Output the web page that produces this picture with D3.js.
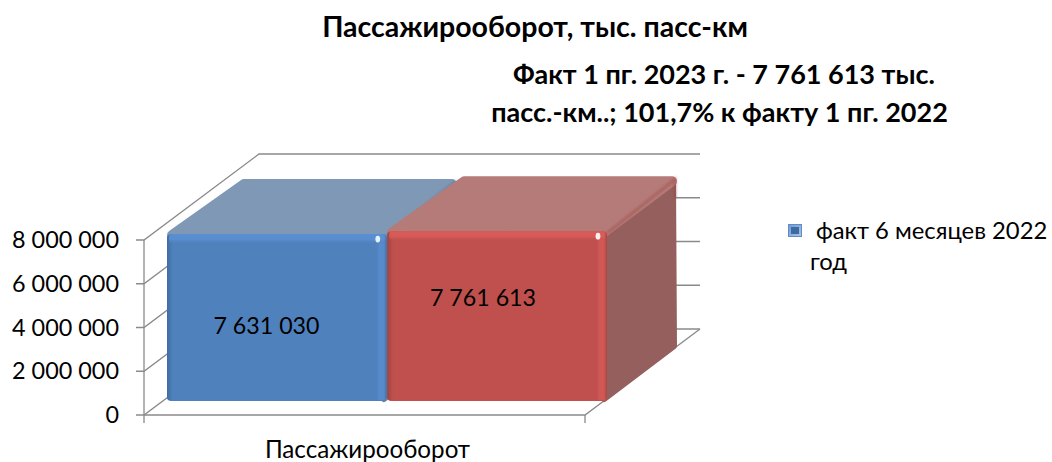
<!DOCTYPE html>
<html><head><meta charset="utf-8">
<script src="https://cdn.jsdelivr.net/npm/d3@7"></script>
<style>html,body{margin:0;background:#fff}svg{display:block}text{font-family:Lato,"Open Sans",sans-serif;fill:#000}</style>
</head><body><script>
const seriesNames=["факт 6 месяцев 2022 год","факт 6 месяцев 2023 год"];
const seriesValues=[7631030,7761613];
const seriesLabels=["7 631 030","7 761 613"];
const categories=["Пассажирооборот"];
const tickValues=[0,2000000,4000000,6000000,8000000];
const tickLabels=["0","2 000 000","4 000 000","6 000 000","8 000 000"];
const chartTitle="Пассажирооборот, тыс. пасс-км";
const subtitleLines=["Факт 1 пг. 2023 г. - 7 761 613 тыс.","пасс.-км..; 101,7% к факту 1 пг. 2022"];
const palettes=[
 {front:"#4F81BD",top:"#7F98B5",side:"#6d8199",hi:"#5A8FD2",lo:"#3f6a9e",spot:"#e4f2ff"},
 {front:"#C0504D",top:"#B57B78",side:"#955F5D",hi:"#D95C59",lo:"#9a4340",spot:"#fff0ee"}];

const W=1052,H=462;
const svg=d3.select("body").append("svg").attr("width",W).attr("height",H);
const defs=svg.append("defs");
const y=d3.scaleLinear().domain([0,8000000]).range([415,240]);
const xFloor=d3.scaleBand().domain(categories).range([144,585]);
const xBar=d3.scaleBand().domain(seriesNames).range([167,607]).paddingInner(0.002);
const wall={dx:115,dy:-86},barLift=-14,depth={dx:70,dy:-55};
const grey="#8a8a8a";

const g=svg.append("g").attr("fill","none").attr("stroke",grey).attr("stroke-width",1.3);
tickValues.forEach(v=>{
  const p=y(v);
  g.append("path").attr("d",d3.line()([[136,p],[144,p],[144+wall.dx,p+wall.dy],[xFloor.range()[1]+wall.dx,p+wall.dy]]));
});
g.append("path").attr("d",d3.line()([[144,y(8000000)],[144,y(0)+8]]));
g.append("path").attr("d",d3.line()([[144,y(0)],[585,y(0)],[585+wall.dx,y(0)+wall.dy]]));
g.append("path").attr("d",d3.line()([[585,y(0)],[585,y(0)+8]]));

function grad(id,x2,y2,stops){
  const l=defs.append("linearGradient").attr("id",id).attr("x1",0).attr("y1",0).attr("x2",x2).attr("y2",y2);
  stops.forEach(s=>l.append("stop").attr("offset",s[0]).attr("stop-color",s[1]).attr("stop-opacity",s[2]));
}
defs.append("filter").attr("id","blur").append("feGaussianBlur").attr("stdDeviation",1.1);
defs.append("filter").attr("id","blurS").append("feGaussianBlur").attr("stdDeviation",0.7);

function bar(i){
  const name=seriesNames[i],p=palettes[i],x0=xBar(name),w=xBar.bandwidth();
  const yt=y(seriesValues[i])+barLift,yb=y(0)+barLift;
  const G=svg.append("g");
  const poly=(pts,fill,r)=>G.append("path").attr("d",d3.line()(pts)+"Z").attr("fill",fill).attr("stroke",fill).attr("stroke-width",r*2).attr("stroke-linejoin","round");
  poly([[x0+w-3,yt+3],[x0+w+depth.dx-4,yt+depth.dy+4],[x0+w+depth.dx-3,yb+depth.dy],[x0+w-3,yb-2]],p.side,3);
  poly([[x0+5,yt+1],[x0+depth.dx+7,yt+depth.dy+5],[x0+w+depth.dx-5,yt+depth.dy+5],[x0+w-3,yt+1]],p.top,5);
  G.append("path").attr("d",d3.line()([[x0+w,yt+2],[x0+w+depth.dx-2,yt+depth.dy+3],[x0+w+depth.dx-2,yt+depth.dy+22]])).attr("stroke",p.lo).attr("stroke-width",3).attr("opacity",.4).attr("fill","none").attr("filter","url(#blur)");
  G.append("rect").attr("x",x0).attr("y",yt).attr("width",w).attr("height",yb-yt).attr("rx",4).attr("fill",p.front);
  const gl="gl"+i,gr="gr"+i,gt="gt"+i;
  grad(gl,1,0,[[0,p.lo,.95],[.5,p.lo,.35],[1,p.front,0]]);
  grad(gr,1,0,[[0,p.front,0],[.4,p.hi,.7],[.75,p.hi,.6],[1,p.lo,.8]]);
  grad(gt,0,1,[[0,p.hi,.95],[.55,p.hi,.85],[1,p.front,0]]);
  G.append("rect").attr("x",x0).attr("y",yt+1).attr("width",7).attr("height",yb-yt-2).attr("rx",3).attr("fill",`url(#${gl})`);
  G.append("rect").attr("x",x0+w-12).attr("y",yt+1).attr("width",12).attr("height",yb-yt-2).attr("rx",3).attr("fill",`url(#${gr})`);
  G.append("rect").attr("x",x0+2).attr("y",yt).attr("width",w-4).attr("height",10).attr("rx",3).attr("fill",`url(#${gt})`);
  G.append("ellipse").attr("cx",x0+w-9).attr("cy",yt+5).attr("rx",2.4).attr("ry",3.4).attr("fill",p.spot).attr("filter","url(#blurS)");
}
bar(0);bar(1);

seriesLabels.forEach((t,i)=>{
  svg.append("text").attr("x",[266.5,483][i]).attr("y",[326,298][i]).attr("dy","0.35em").attr("text-anchor","middle").attr("font-size",23.2).text(t);
});

tickValues.forEach((v,i)=>{
  svg.append("text").attr("x",119).attr("y",y(v)).attr("dy","0.35em").attr("text-anchor","end").attr("font-size",23.4).text(tickLabels[i]);
});
svg.append("text").attr("x",xFloor(categories[0])+xFloor.bandwidth()/2+3).attr("y",450).attr("dy","0.35em").attr("text-anchor","middle").attr("font-size",24.2).text(categories[0]);

svg.append("text").attr("x",535).attr("y",27).attr("dy","0.35em").attr("text-anchor","middle").attr("font-size",28.5).attr("font-weight",700).text(chartTitle);
subtitleLines.forEach((t,i)=>svg.append("text").attr("x",[724,719.5][i]).attr("y",[75,113][i]).attr("dy","0.35em").attr("text-anchor","middle").attr("font-size",27).attr("font-weight",700).text(t));

const lg=svg.append("g");
grad("lgm",1,1,[[0,"#6f9bd4",1],[1,"#a9c4e6",1]]);
lg.append("rect").attr("x",788.5).attr("y",224.5).attr("width",13).attr("height",12).attr("fill","url(#lgm)").attr("stroke","#5f8cc6");
lg.append("rect").attr("x",791).attr("y",227).attr("width",8).attr("height",7).attr("fill","#3f6a9e");
lg.append("text").attr("x",816).attr("y",231).attr("dy","0.35em").attr("font-size",23.8).text("факт 6 месяцев 2022");
lg.append("text").attr("x",810).attr("y",262).attr("dy","0.35em").attr("font-size",23.8).text("год");
</script></body></html>
